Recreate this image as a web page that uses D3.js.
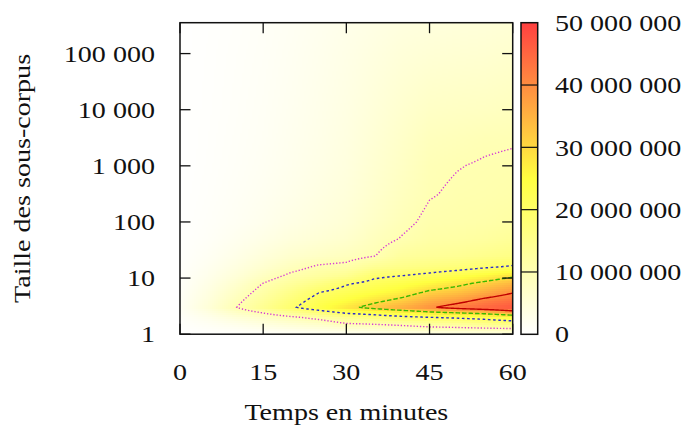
<!DOCTYPE html>
<html><head><meta charset="utf-8">
<script src="https://cdn.jsdelivr.net/npm/d3@7"></script>
<style>
body{margin:0;background:#fff}
text{font-family:"Liberation Serif","Times New Roman",serif;font-size:24px;fill:#111}
</style>
</head><body>
<svg id="chart" width="688" height="430"></svg>
<script>
// ---- Données (valeurs en millions) ----
const times = [0, 5, 10, 15, 20, 25, 30, 35, 40, 45, 50, 55, 60];
const sizes = [1, 1.26, 1.58, 2, 2.5, 3, 4, 5.6, 8, 11, 16, 25, 50, 100, 316, 1000, 3160, 10000, 100000, 355000];
const at0min  = [0.1,0.3,0.5,0.8,1.1,1.3,1.2,1.0,0.8,0.7,0.5,0.4,0.3,0.2,0.15,0.1,0.1,0.1,0.1,0.1];
const at5min  = [0.2,0.9,1.6,2.6,3.8,5.0,4.5,3.9,3.2,2.6,2.0,1.5,1.0,0.8,0.6,0.5,0.45,0.4,0.35,0.3];
const at10min = [0.3,1.6,3.0,5.0,7.5,9.8,8.8,7.6,6.3,5.0,4.0,3.0,2.1,1.5,1.2,1.0,0.9,0.8,0.7,0.6];
const at15min = [0.4,2.5,4.5,7.0,10.8,14.4,13.0,11.5,10.1,8.0,6.2,4.8,3.3,2.4,1.9,1.6,1.4,1.3,1.1,1.0];
const at20min = [0.6,3.5,6.0,9.2,14.5,19.1,17.5,15.5,13.0,10.8,8.5,6.5,4.6,3.5,2.8,2.4,2.2,2.0,1.7,1.5];
const at25min = [0.8,4.5,7.5,11.5,18.0,23.7,22.0,19.8,16.0,12.5,10.5,7.5,5.5,4.5,3.8,3.3,3.0,2.8,2.4,2.1];
const at30min = [1.0,5.5,10.3,14.5,22.0,28.3,25.0,22.0,19.5,14.5,11.0,8.5,6.5,5.5,4.8,4.3,4.0,3.7,3.2,2.8];
const at35min = [1.2,6.5,11.0,16.5,24.0,32.2,28.5,24.5,21.5,19.0,14.0,9.8,8.5,7.4,6.5,6.0,5.5,5.0,4.1,3.5];
const at40min = [1.5,7.5,12.0,18.5,27.0,35.7,31.5,27.0,23.5,20.0,15.5,12.8,10.2,9.2,8.3,7.6,7.0,6.3,5.0,4.2];
const at45min = [2.0,8.5,13.5,20.0,30.0,39.3,35.5,31.0,26.0,21.5,16.5,13.5,11.6,10.7,9.8,9.4,8.6,7.5,5.5,4.5];
const at50min = [2.0,9.0,14.0,21.0,32.0,42.5,38.0,33.0,28.5,23.5,17.5,14.0,12.0,11.0,10.4,9.9,9.0,7.8,5.8,4.8];
const at55min = [2.5,9.5,15.5,22.5,34.0,45.0,41.5,36.0,31.5,26.0,19.0,15.0,12.5,11.3,10.6,10.25,9.5,8.0,6.0,5.0];
const at60min = [3.0,10.0,17.0,25.0,38.0,47.0,44.0,39.5,34.5,29.0,20.5,16.0,13.5,12.0,11.0,10.5,9.7,8.5,6.5,5.5];
const densityByTime = [at0min, at5min, at10min, at15min, at20min, at25min, at30min, at35min, at40min, at45min, at50min, at55min, at60min];

const xTicks = [0, 15, 30, 45, 60];
const yTicks = [1, 10, 100, 1000, 10000, 100000];
const yTickLabels = ["1", "10", "100", "1 000", "10 000", "100 000"];
const cbTicks = [0, 10, 20, 30, 40, 50];
const cbTickLabels = ["0", "10 000 000", "20 000 000", "30 000 000", "40 000 000", "50 000 000"];
const contourLevels = [10, 20, 30, 40];
const contourColors = ["#d63ad6", "#2a2acc", "#3cb800", "#c00000"];
const contourDashes = ["1.3,1.9", "2.6,2.6", "4.5,2", null];
const paletteStops = [0, 25, 50];
const paletteColors = ["#ffffff", "#ffff40", "#ff4040"];

const xLabel = "Temps en minutes";
const yLabel = "Taille des sous-corpus";

// ---- Mise en page ----
const L = 180, R = 512.7, T = 22.7, B = 334.2;
const SX = 1.17;
const svg = d3.select("#chart");
const x = d3.scaleLinear().domain([0, 60]).range([L, R]);
const yMax = sizes[sizes.length - 1];
const y = d3.scaleLog().domain([1, yMax]).range([B, T]);
const color = d3.scaleLinear().domain(paletteStops).range(paletteColors).clamp(true);

const logSizes = sizes.map(Math.log10);
function valueAt(t, ly) {
  let ci = Math.max(0, Math.min(times.length - 2, d3.bisectRight(times, t) - 1));
  let ft = Math.max(0, Math.min(1, (t - times[ci]) / (times[ci + 1] - times[ci])));
  let ri = Math.max(0, Math.min(logSizes.length - 2, d3.bisectRight(logSizes, ly) - 1));
  let fy = Math.max(0, Math.min(1, (ly - logSizes[ri]) / (logSizes[ri + 1] - logSizes[ri])));
  const g = densityByTime;
  const a = g[ci][ri], b = g[ci + 1][ri], c = g[ci][ri + 1], d = g[ci + 1][ri + 1];
  return (a * (1 - ft) + b * ft) * (1 - fy) + (c * (1 - ft) + d * ft) * fy;
}

const defs = svg.append("defs");
defs.append("clipPath").attr("id", "plotclip").append("rect")
  .attr("x", L).attr("y", T).attr("width", R - L).attr("height", B - T);

// ---- Carte de chaleur ----
const cell = 2;
const cells = [];
for (let px = L; px < R; px += cell) {
  for (let py = T; py < B; py += cell) {
    const t = x.invert(px + cell / 2);
    const ly = Math.log10(y.invert(py + cell / 2));
    cells.push({px, py, v: valueAt(t, ly)});
  }
}
const heat = svg.append("g").attr("clip-path", "url(#plotclip)").attr("shape-rendering", "crispEdges");
heat.selectAll("rect").data(cells).join("rect")
  .attr("x", d => d.px).attr("y", d => d.py)
  .attr("width", cell + 0.3).attr("height", cell + 0.3)
  .attr("fill", d => color(d.v));

// ---- Courbes de niveau ----
const dt = 0.25, dl = 0.01;
const nx = Math.round(60 / dt) + 1;
const lmax = Math.log10(yMax);
const ny = Math.floor(lmax / dl) + 1;
const field = new Float64Array(nx * ny);
for (let j = 0; j < ny; j++) for (let i = 0; i < nx; i++) field[i + j * nx] = valueAt(i * dt, j * dl);
const iso = d3.contours().size([nx, ny]).thresholds(contourLevels)(field);
const proj = d3.geoTransform({point(cx, cy) {
  this.stream.point(x((cx - 0.5) * dt), y(Math.pow(10, (cy - 0.5) * dl)));
}});
const path = d3.geoPath(proj);
svg.append("g").attr("clip-path", "url(#plotclip)")
  .selectAll("path").data(iso).join("path")
  .attr("d", path)
  .attr("fill", "none")
  .attr("stroke", (d, i) => contourColors[i])
  .attr("stroke-width", 1.4)
  .attr("stroke-dasharray", (d, i) => contourDashes[i]);

// ---- Axes ----
const tickLen = 10.5;
const axes = svg.append("g").attr("stroke", "#111").attr("stroke-width", 1.3);
xTicks.forEach(v => {
  axes.append("line").attr("x1", x(v)).attr("x2", x(v)).attr("y1", B).attr("y2", B - tickLen);
  axes.append("line").attr("x1", x(v)).attr("x2", x(v)).attr("y1", T).attr("y2", T + tickLen);
});
yTicks.forEach(v => {
  axes.append("line").attr("x1", L).attr("x2", L + tickLen).attr("y1", y(v)).attr("y2", y(v));
  axes.append("line").attr("x1", R).attr("x2", R - tickLen).attr("y1", y(v)).attr("y2", y(v));
});
svg.append("rect").attr("x", L).attr("y", T).attr("width", R - L).attr("height", B - T)
  .attr("fill", "none").attr("stroke", "#111").attr("stroke-width", 1.5);

function label(g, tx, ty, str, anchor, dy, rot) {
  return g.append("text")
    .attr("transform", `translate(${tx},${ty})` + (rot ? ` rotate(${rot})` : "") + ` scale(${SX},1)`)
    .attr("text-anchor", anchor).attr("dy", dy).text(str);
}
const labels = svg.append("g");
xTicks.forEach(v => label(labels, x(v), 380, String(v), "middle", 0));
yTicks.forEach((v, i) => label(labels, 155, y(v), yTickLabels[i], "end", "0.34em"));
label(labels, (L + R) / 2, 420, xLabel, "middle", 0);
label(labels, 30, (T + B) / 2, yLabel, "middle", 0, -90);

// ---- Barre de couleurs ----
const CL = 521, CR = 537.7, CT = 22.7, CB = 334.3;
const cb = d3.scaleLinear().domain([0, 50]).range([CB, CT]);
const grad = defs.append("linearGradient").attr("id", "cbgrad")
  .attr("x1", 0).attr("y1", 1).attr("x2", 0).attr("y2", 0);
paletteStops.forEach((s, i) => grad.append("stop").attr("offset", s / 50).attr("stop-color", paletteColors[i]));
svg.append("rect").attr("x", CL).attr("y", CT).attr("width", CR - CL).attr("height", CB - CT)
  .attr("fill", "url(#cbgrad)");
cbTicks.forEach((v, i) => {
  if (v > 0 && v < 50) svg.append("line").attr("x1", CL).attr("x2", CR).attr("y1", cb(v)).attr("y2", cb(v))
    .attr("stroke", "#111").attr("stroke-width", 1.2);
  label(labels, 555, cb(v), cbTickLabels[i], "start", "0.34em");
});
svg.append("rect").attr("x", CL).attr("y", CT).attr("width", CR - CL).attr("height", CB - CT)
  .attr("fill", "none").attr("stroke", "#111").attr("stroke-width", 1.5);
</script>
</body></html>
